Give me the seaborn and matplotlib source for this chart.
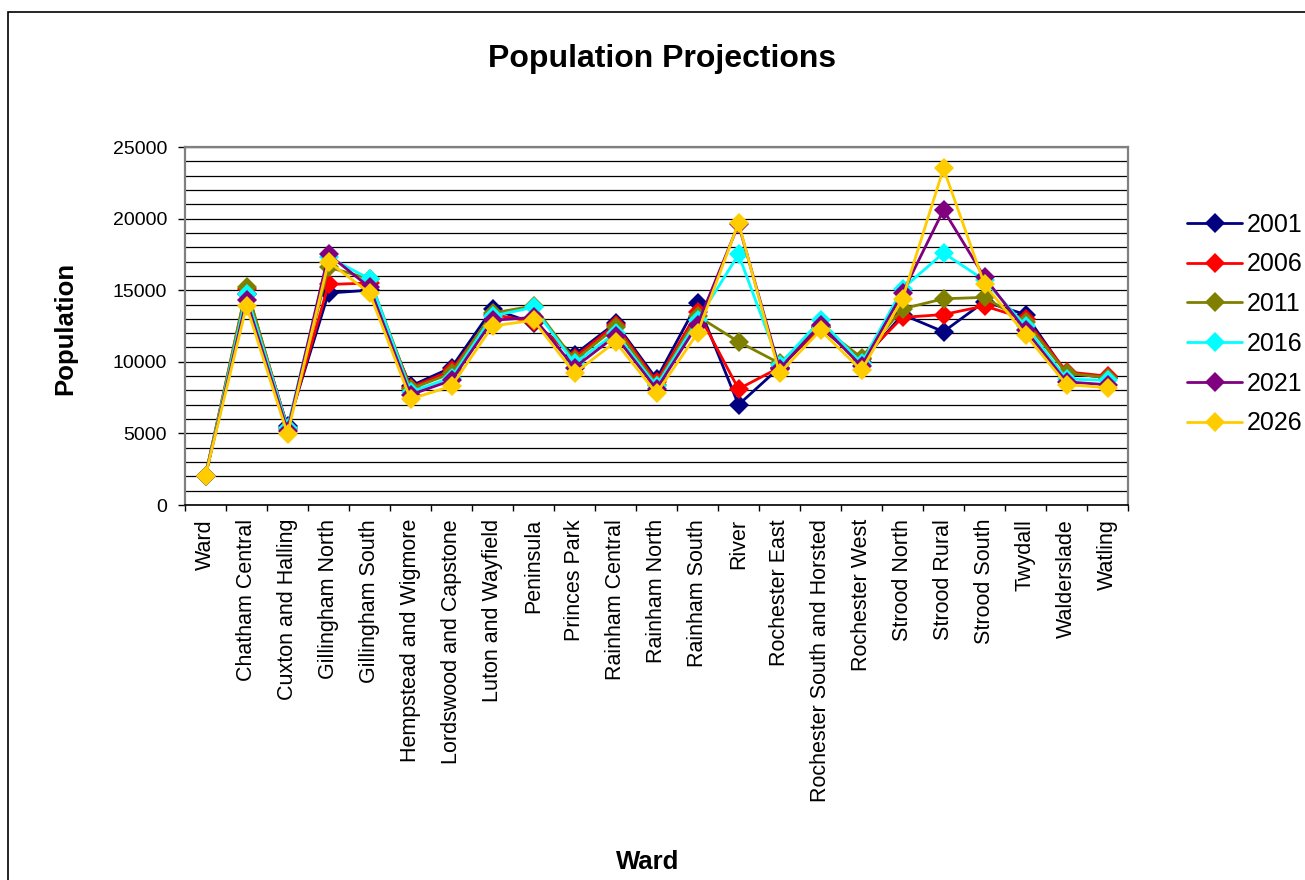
import numpy as np
import pandas as pd
import matplotlib
matplotlib.use("Agg")
import matplotlib.pyplot as plt
from matplotlib.patches import Rectangle
import seaborn as sns

# Ward names along the x axis
wards = ["Ward", "Chatham Central", "Cuxton and Halling", "Gillingham North",
         "Gillingham South", "Hempstead and Wigmore", "Lordswood and Capstone",
         "Luton and Wayfield", "Peninsula", "Princes Park", "Rainham Central",
         "Rainham North", "Rainham South", "River", "Rochester East",
         "Rochester South and Horsted", "Rochester West", "Strood North",
         "Strood Rural", "Strood South", "Twydall", "Walderslade", "Watling"]

# Projected population per ward for each year
pop_2001 = [2050, 14700, 5500, 14800, 15000, 8300, 9600, 13700, 12700, 10500, 12700,
            8800, 14100, 7000, 9600, 12400, 10000, 13300, 12100, 14200, 13300, 9200, 8900]
pop_2006 = [2050, 15100, 5400, 15400, 15500, 8200, 9400, 13300, 12800, 10300, 12600,
            8600, 13500, 8100, 9600, 12400, 10200, 13100, 13300, 13900, 13000, 9300, 9000]
pop_2011 = [2050, 15200, 5300, 16600, 15800, 8100, 9200, 13400, 13900, 10100, 12400,
            8400, 13200, 11400, 9900, 12500, 10300, 13700, 14400, 14500, 12800, 9200, 8900]
pop_2016 = [2050, 14700, 5400, 17300, 15800, 7900, 8900, 13200, 13800, 9900, 12000,
            8300, 12900, 17500, 9800, 12900, 9900, 15100, 17600, 15700, 12500, 8800, 8700]
pop_2021 = [2050, 14300, 5200, 17500, 15200, 7700, 8700, 12900, 13100, 9600, 11800,
            8100, 12600, 19600, 9500, 12600, 9700, 14800, 20600, 15900, 12200, 8600, 8400]
pop_2026 = [2050, 13900, 4950, 17000, 14800, 7400, 8300, 12500, 12900, 9200, 11400,
            7800, 12000, 19700, 9200, 12200, 9400, 14400, 23500, 15400, 11900, 8400, 8200]

years = ["2001", "2006", "2011", "2016", "2021", "2026"]
series = [pop_2001, pop_2006, pop_2011, pop_2016, pop_2021, pop_2026]
colors = ["#000080", "#FF0000", "#808000", "#00FFFF", "#800080", "#FFCC00"]

df = pd.concat(
    [pd.DataFrame({"Ward": wards, "Population": vals, "Year": yr})
     for yr, vals in zip(years, series)],
    ignore_index=True,
)

sns.set_style("white")
plt.rcParams["font.family"] = ["Liberation Sans", "DejaVu Sans"]
plt.rcParams.update({"text.color": "black", "axes.labelcolor": "black",
                     "xtick.color": "black", "ytick.color": "black"})

fig = plt.figure(figsize=(13.05, 8.8), dpi=100)
ax = fig.add_axes([185 / 1305, 1 - 505 / 880, 943 / 1305, 358 / 880])

sns.lineplot(data=df, x="Ward", y="Population", hue="Year", hue_order=years,
             palette=colors, sort=False, marker="D", markersize=10,
             markeredgewidth=0, linewidth=2.0, ax=ax, legend=True)

# y axis: 0-25000, labels every 5000, gridlines every 1000
ax.set_ylim(0, 25000)
ax.set_yticks(np.arange(0, 25001, 5000))
ax.set_yticks(np.arange(0, 25001, 1000), minor=True)
ax.grid(True, axis="y", which="both", color="black", linewidth=0.9)
ax.set_axisbelow(True)
ax.tick_params(axis="y", which="major", direction="out", length=5, width=1,
               color="black", labelsize=14, pad=8, left=True)
ax.tick_params(axis="y", which="minor", length=0)

# x axis: labels at categories, tick marks between categories
ax.set_xlim(-0.5, len(wards) - 0.5)
ax.set_xticks(np.arange(len(wards)))
ax.set_xticklabels(wards, rotation=90, fontsize=15.5)
ax.set_xticks(np.arange(-0.5, len(wards), 1), minor=True)
ax.tick_params(axis="x", which="major", length=0, pad=10)
ax.tick_params(axis="x", which="minor", direction="out", length=4.5, width=1,
               color="black", bottom=True)

for side in ["left", "top", "right"]:
    ax.spines[side].set_color("#808080")
    ax.spines[side].set_linewidth(1.6)
ax.spines["bottom"].set_color("black")
ax.spines["bottom"].set_linewidth(1.2)

ax.set_xlabel("")
ax.set_ylabel("")

fig.text(662 / 1305, 1 - 59 / 880, "Population Projections", ha="center",
         va="center", fontsize=23, fontweight="bold")
fig.text(65 / 1305, 1 - 328 / 880, "Population", ha="center", va="center",
         rotation=90, fontsize=18.5, fontweight="bold")
fig.text(648 / 1305, 1 - 862 / 880, "Ward", ha="center", va="center",
         fontsize=18.5, fontweight="bold")

ax.legend_.remove()
handles, labels = ax.get_legend_handles_labels()
fig.legend(handles, labels, loc="center left",
           bbox_to_anchor=(1187 / 1305, 1 - 324 / 880), frameon=False,
           fontsize=18, handlelength=2.2, handletextpad=0.2, labelspacing=0.63,
           borderpad=0, borderaxespad=0)

# outer chart frame
fig.patches.append(Rectangle((8 / 1305, -0.1), 1.2, 1 - 12 / 880 + 0.1,
                             transform=fig.transFigure, fill=False,
                             edgecolor="black", linewidth=1.2))

fig.savefig("out.png", dpi=100)
